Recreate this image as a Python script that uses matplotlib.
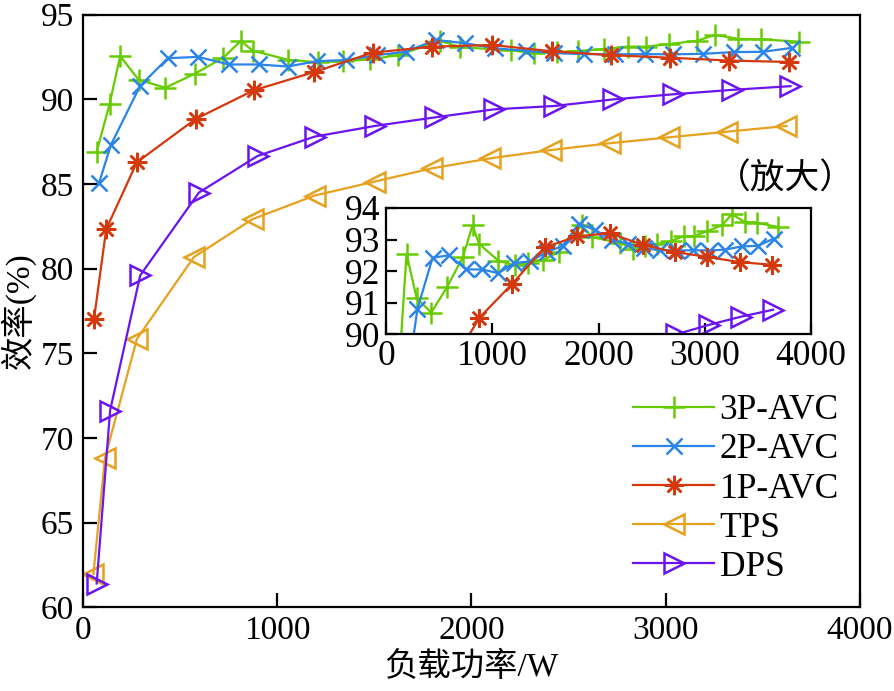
import matplotlib
matplotlib.use("Agg")
import matplotlib.pyplot as plt

plt.rcParams['font.family'] = ['Liberation Serif', 'Noto Sans CJK SC']
plt.rcParams['font.size'] = 24
plt.rcParams['axes.linewidth'] = 1.6

# data
p3_x = [72, 138, 193, 288, 426, 576, 724, 814, 874, 1055, 1210, 1340, 1478, 1624, 1840,
        1943, 2202, 2323, 2440, 2547, 2680, 2805, 2897, 3018, 3162, 3254, 3374, 3492, 3685]
p3_y = [86.9, 89.7, 92.55, 91.14, 90.68, 91.5, 92.45, 93.45, 92.87, 92.33, 92.18, 92.25, 92.35, 92.6, 93.45,
        93.07, 92.89, 92.71, 92.78, 92.85, 92.95, 93.11, 93.1, 93.26, 93.45, 93.8, 93.56, 93.53, 93.4]

p2_x = [84, 145, 296, 438, 593, 753, 905, 1055, 1207, 1357, 1512, 1662, 1817, 1969,
        2124, 2279, 2426, 2581, 2737, 2892, 3038, 3193, 3349, 3500, 3650]
p2_y = [85.04, 87.3, 90.8, 92.42, 92.5, 92.05, 92.05, 91.93, 92.25, 92.31, 92.6, 92.8, 93.5, 93.3,
        93.0, 92.86, 92.72, 92.66, 92.65, 92.66, 92.65, 92.68, 92.78, 92.8, 93.03]

p1_x = [58, 121, 279, 581, 879, 1190, 1492, 1797, 2107, 2414, 2719, 3021, 3328, 3633]
p1_y = [77.0, 82.33, 86.28, 88.83, 90.52, 91.6, 92.75, 93.1, 93.2, 92.83, 92.6, 92.45, 92.28, 92.2]

tps_x = [55, 115, 279, 572, 874, 1193, 1503, 1797, 2098, 2409, 2711, 3016, 3314, 3621]
tps_y = [61.96, 68.84, 75.85, 80.68, 82.92, 84.31, 85.14, 85.92, 86.51, 87.0, 87.4, 87.75, 88.08, 88.42]

dps_x = [72, 141, 296, 598, 900, 1193, 1503, 1814, 2116, 2426, 2731, 3038, 3340, 3642]
dps_y = [61.41, 71.62, 79.6, 84.49, 86.65, 87.79, 88.42, 88.93, 89.4, 89.6, 89.99, 90.29, 90.55, 90.77]

names = ["3P-AVC", "2P-AVC", "1P-AVC", "TPS", "DPS"]
colors = ["#66cc00", "#2b84e8", "#d4380d", "#e6a11f", "#6a14f0"]
markers = ["+", "x", (8, 2, 0), "<", ">"]
sizes = [16, 12, 14, 15, 15]
series = [(p3_x, p3_y), (p2_x, p2_y), (p1_x, p1_y), (tps_x, tps_y), (dps_x, dps_y)]


def draw(ax, ms_scale=1.0):
    for (x, y), name, c, m, s in zip(series, names, colors, markers, sizes):
        ax.plot(x, y, color=c, lw=1.6, marker=m, ms=s * ms_scale, mfc="none",
                mec=c, mew=1.8, label=name)


fig = plt.figure(figsize=(8.94, 6.91), dpi=100)
ax = fig.add_axes([0.0925, 0.121, 0.8695, 0.858])
draw(ax)
ax.set_xlim(0, 4000)
ax.set_ylim(60, 95)
ax.set_xticks([0, 1000, 2000, 3000, 4000])
ax.set_yticks(range(60, 96, 5))
ax.tick_params(direction="in", length=10, width=1.6, top=False, right=False, pad=6)
ax.set_xlabel("负载功率/W", labelpad=4)
ax.set_ylabel("效率(%)", labelpad=4)
ax.legend(loc="center left", bbox_to_anchor=(0.708, 0.2923), bbox_transform=fig.transFigure,
          frameon=False, handlelength=2.3, handletextpad=0.15, labelspacing=0.17,
          borderpad=0, borderaxespad=0, fontsize=25.5)

ins = fig.add_axes([0.4318, 0.5166, 0.4754, 0.1824])
draw(ins, 0.95)
ins.set_xlim(0, 4000)
ins.set_ylim(90, 94)
ins.set_xticks([0, 1000, 2000, 3000, 4000])
ins.set_yticks([90, 91, 92, 93, 94])
ins.tick_params(direction="in", length=8, width=1.6, top=False, right=False, labelsize=25.5, pad=4)
for sp in ins.spines.values():
    sp.set_linewidth(1.6)

fig.text(0.878, 0.74, "（放大）", ha="center", va="center", fontsize=25)

fig.savefig("out.png", dpi=100)
